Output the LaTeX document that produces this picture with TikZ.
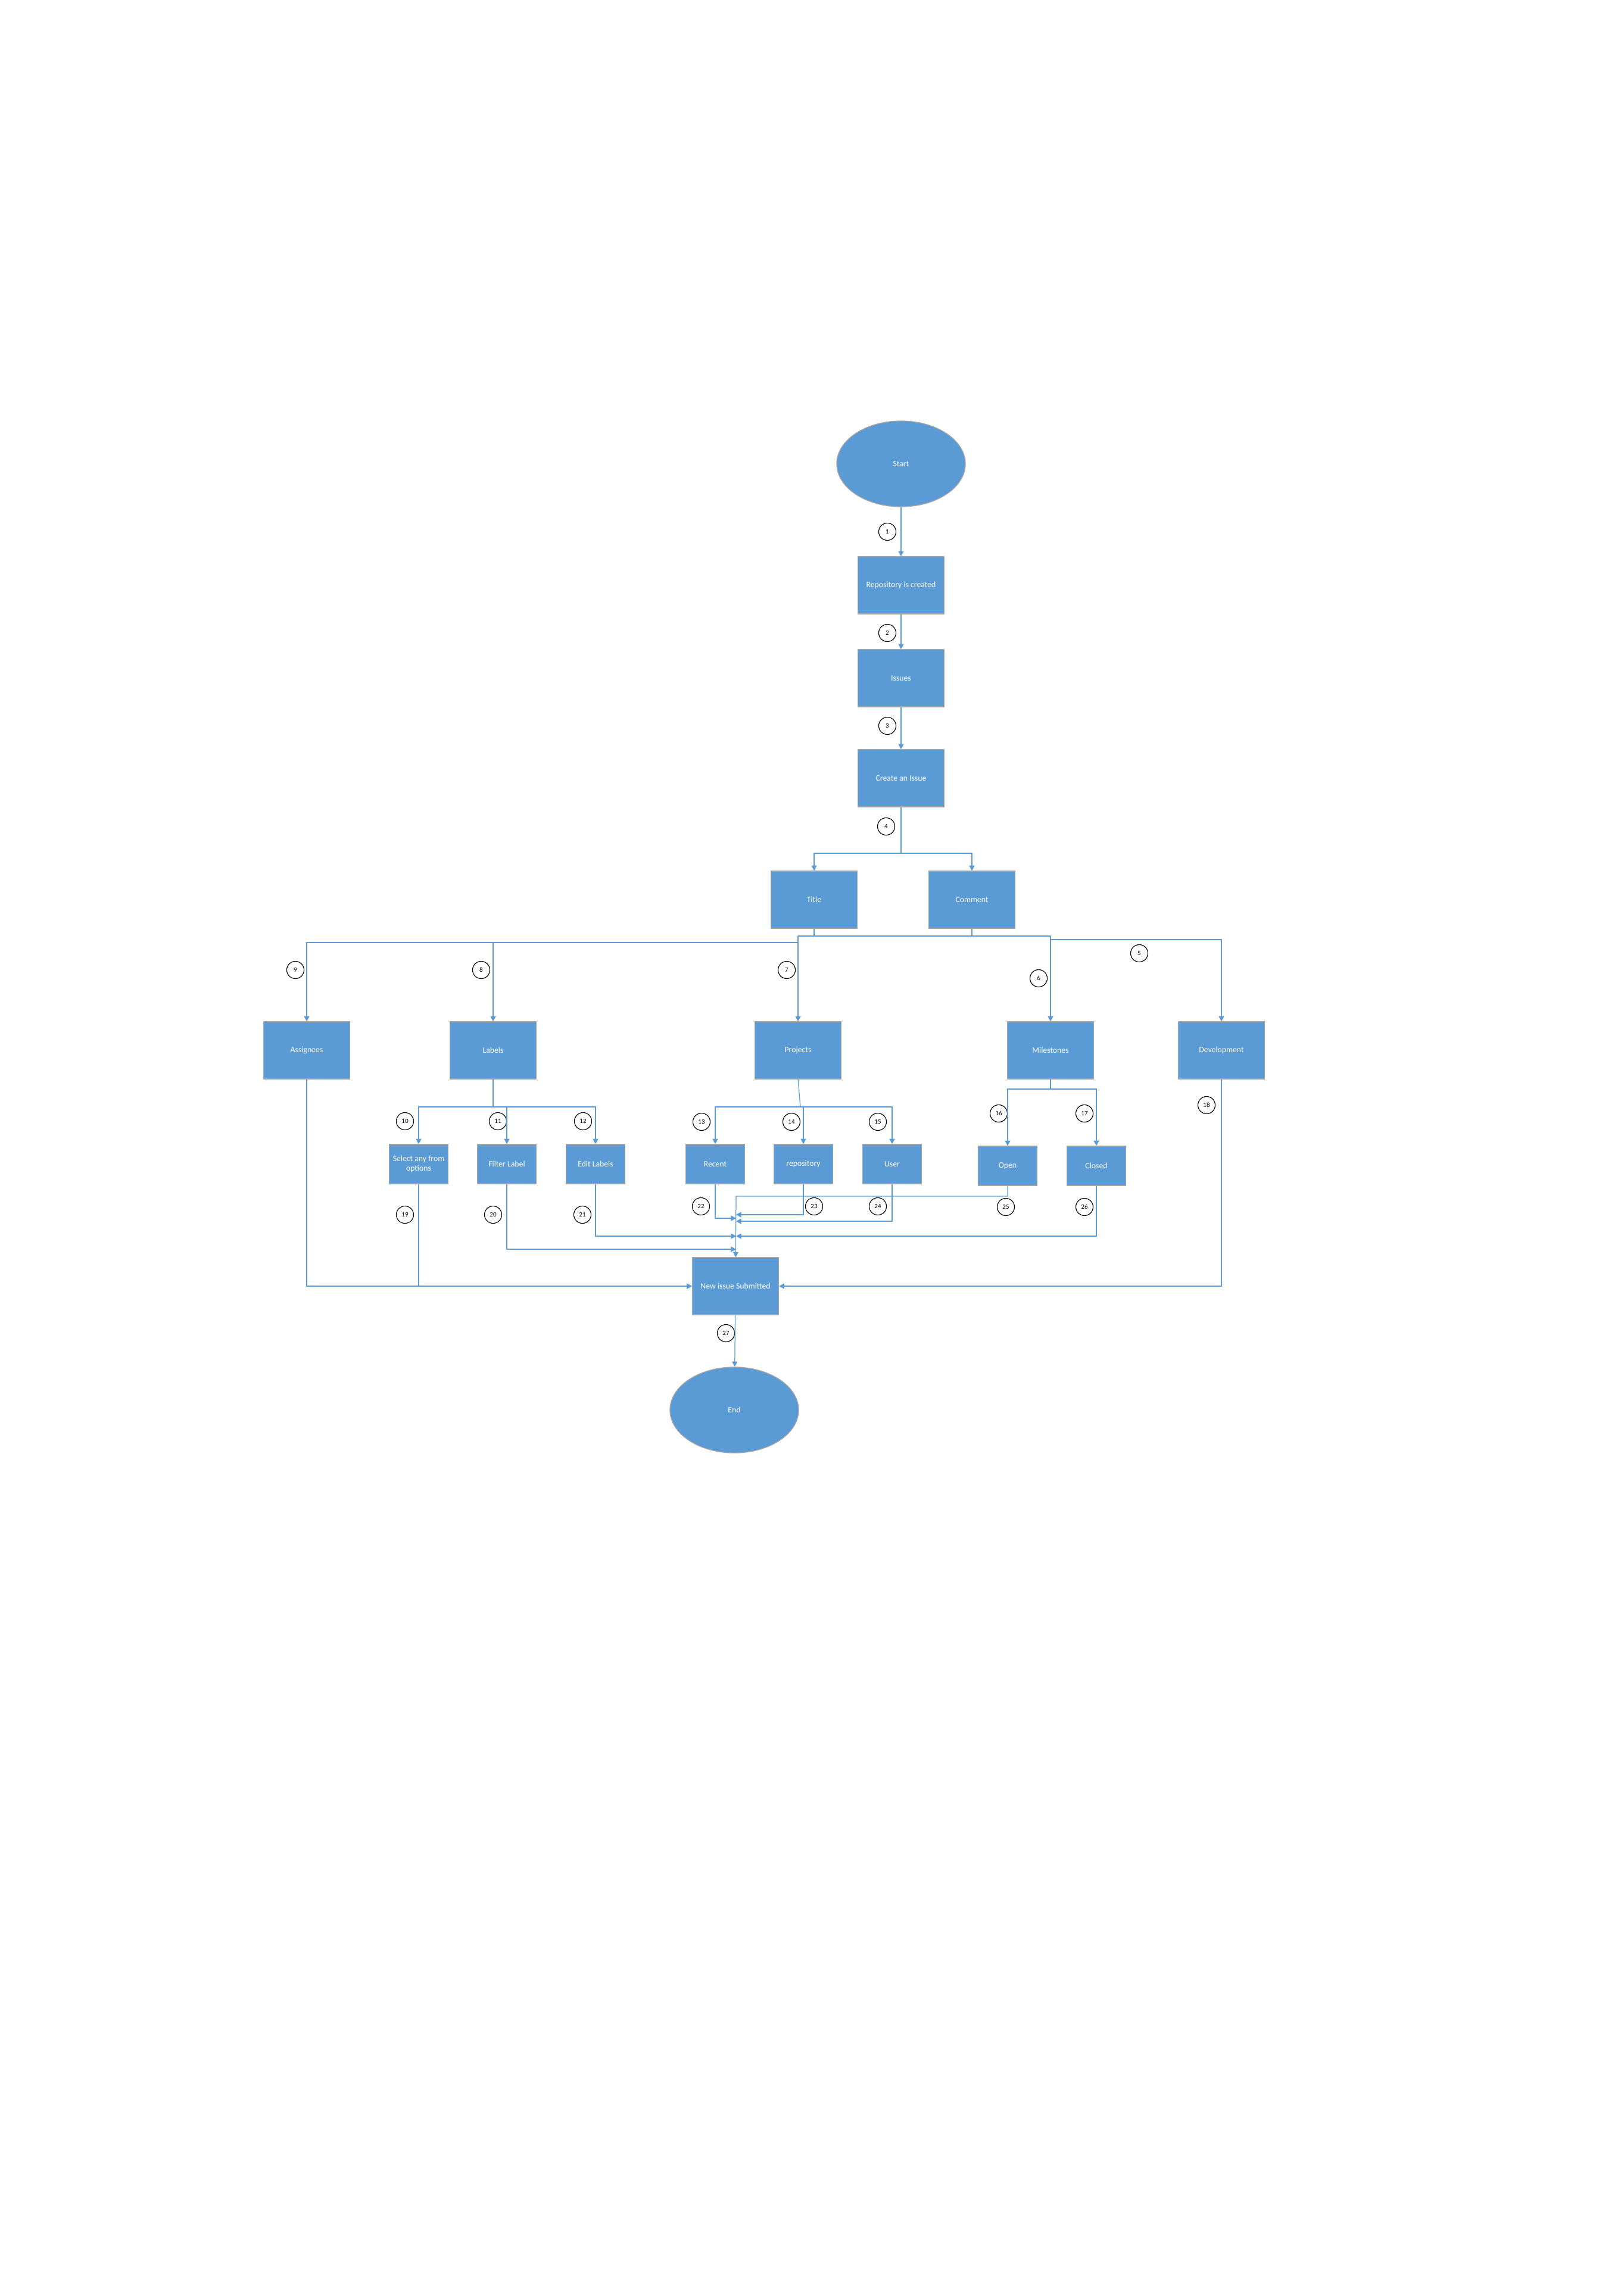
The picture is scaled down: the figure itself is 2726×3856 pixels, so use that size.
\documentclass[tikz,border=0pt]{standalone}
\usepackage{fontspec}
\setmainfont{Carlito}
\usetikzlibrary{arrows.meta,shapes.geometric}
\definecolor{boxblue}{HTML}{5B9BD5}
\definecolor{linkblue}{HTML}{5B9BD5}
\definecolor{boxedge}{HTML}{A5A5A5}
\newcommand{\px}{0.21837pt}
\tikzstyle{box}=[rectangle, fill=boxblue, draw=boxedge, line width=0.3pt, minimum width=145*\px, minimum height=96*\px, inner sep=0pt, text=white, font=\fontsize{3}{3.6}\selectfont, align=center]
\tikzstyle{subbox}=[box, minimum width=99*\px, minimum height=66*\px]
\tikzstyle{term}=[ellipse, fill=boxblue, draw=boxedge, line width=0.3pt, minimum width=216*\px, minimum height=144*\px, inner sep=0pt, text=white, font=\fontsize{3}{3.6}\selectfont]
\tikzstyle{num}=[circle, draw=black, fill=white, line width=0.25pt, minimum size=29*\px, inner sep=0pt, font=\fontsize{2.4}{2.4}\selectfont]
\tikzstyle{conn}=[draw=linkblue, line width=0.27pt, -{Triangle[length=1.9pt,width=2pt]}]
\tikzstyle{link}=[draw=linkblue, line width=0.27pt]
\begin{document}
\begin{tikzpicture}[x=\px, y=-\px]
	\useasboundingbox (0,0) rectangle (2726,3856);

	% main column
	\node[term](start) at (1513,779){Start};
	\node[box](repo) at (1513,983){Repository is created};
	\node[box](issues) at (1513,1139){Issues};
	\node[box](create) at (1513,1307){Create an Issue};
	\node[box](title) at (1367,1511){Title};
	\node[box](comment) at (1632,1511){Comment};

	\node[box](assignees) at (515,1764){Assignees};
	\node[box](labels) at (828,1764){Labels};
	\node[box](projects) at (1340,1764){Projects};
	\node[box](milestones) at (1764,1764){Milestones};
	\node[box](development) at (2051,1764){Development};

	\node[subbox](select) at (703,1955){Select any from\\options};
	\node[subbox](filter) at (851,1955){Filter Label};
	\node[subbox](edit) at (1000,1955){Edit Labels};
	\node[subbox](recent) at (1201,1955){Recent};
	\node[subbox](repository) at (1349,1955){repository};
	\node[subbox](user) at (1498,1955){User};
	\node[subbox](open) at (1692,1958){Open};
	\node[subbox](closed) at (1841,1958){Closed};

	\node[box](newissue) at (1235,2160){New issue Submitted};
	\node[term](finish) at (1233,2368){End};

	% step numbers
	\node[num](n1) at (1490,893){1};
	\node[num](n2) at (1490,1063){2};
	\node[num](n3) at (1490,1219){3};
	\node[num](n4) at (1488,1388){4};
	\node[num](n5) at (1913,1601){5};
	\node[num](n6) at (1744,1643){6};
	\node[num](n7) at (1321,1629){7};
	\node[num](n8) at (808,1629){8};
	\node[num](n9) at (496,1629){9};
	\node[num](n10) at (680,1883){10};
	\node[num](n11) at (836,1883){11};
	\node[num](n12) at (979,1883){12};
	\node[num](n13) at (1178,1884){13};
	\node[num](n14) at (1329,1884){14};
	\node[num](n15) at (1474,1884){15};
	\node[num](n16) at (1677,1870){16};
	\node[num](n17) at (1821,1870){17};
	\node[num](n18) at (2026,1856){18};
	\node[num](n19) at (680,2040){19};
	\node[num](n20) at (828,2040){20};
	\node[num](n21) at (978,2040){21};
	\node[num](n22) at (1177,2026){22};
	\node[num](n23) at (1367,2026){23};
	\node[num](n24) at (1474,2026){24};
	\node[num](n25) at (1689,2027){25};
	\node[num](n26) at (1821,2027){26};
	\node[num](n27) at (1219,2239){27};

	% junction points
	\coordinate (split) at (1513,1433);
	\coordinate (busA) at (1340,1572);
	\coordinate (busB) at (1764,1572);
	\coordinate (busC) at (1764,1578);
	\coordinate (busD) at (1340,1583);
	\coordinate (labsplit) at (828,1859);
	\coordinate (prosplit) at (1344,1859);
	\coordinate (milsplit) at (1764,1829);
	\coordinate (gather) at (1236,2009);
	\coordinate (in20) at (1236,2098);
	\coordinate (in21) at (1236,2076);
	\coordinate (in22) at (1236,2046);
	\coordinate (in23) at (1236,2040);
	\coordinate (in24) at (1236,2051);

	\draw[conn] (start) -- (repo);
	\draw[conn] (repo) -- (issues);
	\draw[conn] (issues) -- (create);
	\draw[link] (create) -- (split);
	\draw[conn] (split) -| (title);
	\draw[conn] (split) -| (comment);

	\draw[link] (title.south) -- (title.south |- busA);
	\draw[link] (comment.south) -- (comment.south |- busA);
	\draw[link] (busA) -- (busB);
	\draw[conn] (busA) -- (projects);
	\draw[conn] (busB) -- (milestones);
	\draw[conn] (busC) -| (development);
	\draw[conn] (busD) -| (labels);
	\draw[conn] (busD) -| (assignees);

	\draw[link] (labels) -- (labsplit);
	\draw[conn] (labsplit) -| (select);
	\draw[conn] (labsplit) -| (filter);
	\draw[conn] (labsplit) -| (edit);
	\draw[link] (projects.south) -- (prosplit);
	\draw[conn] (prosplit) -| (recent);
	\draw[conn] (prosplit) -| (repository);
	\draw[conn] (prosplit) -| (user);
	\draw[link] (milestones) -- (milsplit);
	\draw[conn] (milsplit) -| (open);
	\draw[conn] (milsplit) -| (closed);

	% into the new issue box
	\draw[conn] (open.south) |- (gather) -- (newissue);
	\draw[conn] (recent.south) |- (in22);
	\draw[conn] (repository.south) |- (in23);
	\draw[conn] (user.south) |- (in24);
	\draw[conn] (edit.south) |- (in21);
	\draw[conn] (closed.south) |- (in21);
	\draw[conn] (filter.south) |- (in20);
	\draw[conn] (select.south) |- (newissue);
	\draw[conn] (assignees.south) |- (newissue);
	\draw[conn] (development.south) |- (newissue);
	\draw[conn] (newissue) -- (finish);

\end{tikzpicture}
\end{document}
